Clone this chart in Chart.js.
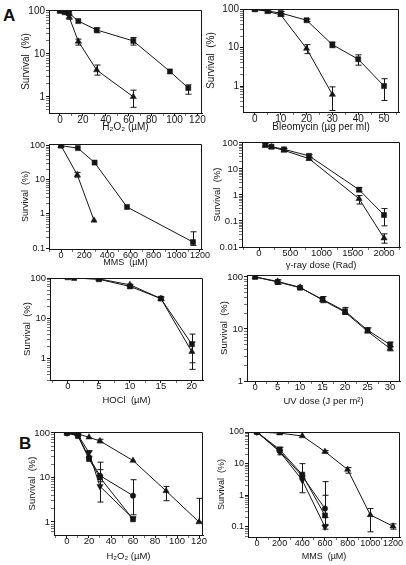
<!DOCTYPE html>
<html>
<head>
<meta charset="utf-8">
<script src="https://cdn.jsdelivr.net/npm/chart.js@4"></script>
<style>
body{margin:0;background:#fff;width:406px;height:565px;position:relative;overflow:hidden;font-family:"Liberation Sans",Arial,sans-serif}
canvas{position:absolute}
.lbl{position:absolute;font-weight:bold;font-size:17px;color:#111}
</style>
</head>
<body>
<div class="lbl" style="left:3px;top:6px">A</div>
<div class="lbl" style="left:19px;top:434px">B</div>
<script>
// --- A: H2O2 ---
const h2o2SqDose = [0, 4, 8, 16, 32, 64, 96, 112];
const h2o2SqSurv = [100, 93, 88, 58, 36, 20, 3.9, 1.6];
const h2o2SqErr = [null, null, null, null, [31, 40], [16, 24], null, [1.15, 1.9]];
const h2o2TrDose = [0, 8, 16, 32, 64];
const h2o2TrSurv = [100, 72, 19.5, 4.2, 1.0];
const h2o2TrErr = [null, [64, 80], [16, 22], [3.2, 5.5], [0.57, 1.43]];

// --- A: Bleomycin ---
const bleoSqDose = [0, 5, 10, 20, 30, 40, 50];
const bleoSqSurv = [100, 90, 80, 52, 12, 5, 1];
const bleoSqErr = [null, [84, 96], [72, 88], [48, 56], [10, 14], [3.5, 6.5], [0.42, 1.55]];
const bleoTrDose = [0, 5, 10, 20, 30];
const bleoTrSurv = [100, 88, 72, 9.5, 0.6];
const bleoTrErr = [null, null, [66, 78], [7, 12], [0.23, 0.95]];

// --- A: MMS ---
const mmsSqDose = [0, 145, 290, 570, 1140];
const mmsSqSurv = [100, 85, 32, 1.6, 0.15];
const mmsSqErr = [null, null, null, null, [0.12, 0.3]];
const mmsTrDose = [0, 140, 285];
const mmsTrSurv = [100, 14, 0.65];
const mmsTrErr = [null, [12, 16.5], null];

// --- A: gamma ray ---
const gamSqDose = [100, 200, 400, 800, 1600, 2000];
const gamSqSurv = [85, 72, 57, 32, 1.6, 0.17];
const gamSqErr = [[75, 95], null, [50, 62], [28, 36], [1.35, 1.9], [0.065, 0.3]];
const gamTrDose = [100, 200, 400, 800, 1600, 2000];
const gamTrSurv = [80, 70, 52, 25, 0.72, 0.022];
const gamTrErr = [null, null, null, [22, 28], [0.45, 0.95], [0.014, 0.032]];

// --- A: HOCl ---
const hoclSqDose = [1, 5, 10, 15, 20];
const hoclSqSurv = [100, 93, 62, 31, 2.3];
const hoclSqErr = [null, null, [56, 68], [28, 34], [0.8, 4.1]];
const hoclTrDose = [0, 5, 10, 15, 20];
const hoclTrSurv = [100, 95, 68, 31, 1.5];
const hoclTrErr = [null, null, null, null, [0.55, 2.6]];

// --- A: UV ---
const uvDose = [0, 5, 10, 15, 20, 25, 30];
const uvSqSurv = [100, 80, 62, 37, 22, 9.5, 5];
const uvSqErr = [null, [72, 88], null, [32, 42], [19, 26], [8.6, 10.5], [4.5, 5.6]];
const uvTrSurv = [100, 82, 63, 36, 21, 9, 4.2];
const uvTrErr = [null, null, null, null, null, null, [3.8, 4.6]];

// --- B: H2O2 ---
const bH2o2UpDose = [0, 10, 20, 30, 60, 90, 120];
const bH2o2UpSurv = [100, 95, 80, 66, 24, 5, 1];
const bH2o2UpErr = [null, null, null, [60, 72], null, [3, 6.3], [1, 3.4]];
const bH2o2Dose = [0, 10, 20, 30, 60];
const bH2o2CiSurv = [100, 88, 28, 11, 3.9];
const bH2o2CiErr = [null, null, null, [2.8, 22], [1.45, 8.9]];
const bH2o2SqSurv = [100, 85, 26, 10, 1.15];
const bH2o2SqErr = [null, null, null, [8, 15], null];
const bH2o2DnSurv = [100, 90, 36, 6.3, 1.2];
const bH2o2DnErr = [null, null, [30, 40], null, null];

// --- B: MMS ---
const bMmsUpDose = [0, 200, 400, 600, 800, 1000, 1200];
const bMmsUpSurv = [100, 92, 75, 24, 6.5, 0.24, 0.105];
const bMmsUpErr = [null, null, null, [22, 26], [5, 7.5], [0.07, 0.38], [0.085, 0.125]];
const bMmsDose = [0, 200, 400, 600];
const bMmsCiSurv = [100, 25, 4, 0.38];
const bMmsCiErr = [null, [19, 33], [1.2, 10], [0.11, 2.7]];
const bMmsSqSurv = [100, 28, 4.5, 0.23];
const bMmsSqErr = [null, null, null, [0.2, 1.0]];
const bMmsDnSurv = [100, 24, 3, 0.1];
const bMmsDnErr = [null, null, null, [0.085, 0.12]];

function ser(xs, ys, err, mark) {
    return { xs: xs, ys: ys, err: err, mark: mark };
}

// plot box = [left, top, right, bottom] on the page, fs = font size
const panels = [
    { box: [49, 10, 202, 113], yT: 26, xT: 127, fs: 10, x: [-9.6, 124], y: [0.42, 105],
      xTicks: [0, 20, 40, 60, 80, 100, 120], xStep: 10, title: 'H₂O₂ (µM)',
      series: [ser(h2o2SqDose, h2o2SqSurv, h2o2SqErr, 'sq'), ser(h2o2TrDose, h2o2TrSurv, h2o2TrErr, 'up')] },
    { box: [243, 9, 399, 112], yT: 211, xT: 127, fs: 10, x: [-4.6, 55.8], y: [0.21, 102],
      xTicks: [0, 10, 20, 30, 40, 50], xStep: 5, title: 'Bleomycin (µg per ml)',
      series: [ser(bleoSqDose, bleoSqSurv, bleoSqErr, 'sq'), ser(bleoTrDose, bleoTrSurv, bleoTrErr, 'up')] },
    { box: [49, 144, 202, 249], yT: 26, xT: 262, fs: 9, x: [-104, 1218], y: [0.094, 112],
      xTicks: [0, 200, 400, 600, 800, 1000, 1200], xStep: 100, title: 'MMS  (µM)',
      series: [ser(mmsSqDose, mmsSqSurv, mmsSqErr, 'sq'), ser(mmsTrDose, mmsTrSurv, mmsTrErr, 'up')] },
    { box: [242, 142, 400, 247], yT: 218, xT: 265, fs: 9.5, x: [-272, 2256], y: [0.01, 109],
      xTicks: [0, 500, 1000, 1500, 2000], xStep: 250, title: 'γ-ray dose (Rad)',
      series: [ser(gamSqDose, gamSqSurv, gamSqErr, 'sq'), ser(gamTrDose, gamTrSurv, gamTrErr, 'up')] },
    { box: [50, 278, 203, 380], yT: 28, xT: 400, fs: 9.5, x: [-2.9, 21.8], y: [0.3, 100],
      xTicks: [0, 5, 10, 15, 20], xStep: 2.5, title: 'HOCl  (µM)',
      series: [ser(hoclSqDose, hoclSqSurv, hoclSqErr, 'sq'), ser(hoclTrDose, hoclTrSurv, hoclTrErr, 'up')] },
    { box: [247, 275, 400, 381], yT: 225, xT: 401, fs: 9.5, x: [-1.8, 32.2], y: [1, 109],
      xTicks: [0, 5, 10, 15, 20, 25, 30], xStep: 2.5, title: 'UV dose (J per m²)',
      series: [ser(uvDose, uvSqSurv, uvSqErr, 'sq'), ser(uvDose, uvTrSurv, uvTrErr, 'up')] },
    { box: [54, 432, 203, 535], yT: 33, xT: 556, fs: 9.5, x: [-11.8, 123.6], y: [0.51, 105],
      xTicks: [0, 20, 40, 60, 80, 100, 120], xStep: 10, title: 'H₂O₂ (µM)',
      series: [ser(bH2o2UpDose, bH2o2UpSurv, bH2o2UpErr, 'up'), ser(bH2o2Dose, bH2o2CiSurv, bH2o2CiErr, 'ci'),
               ser(bH2o2Dose, bH2o2SqSurv, bH2o2SqErr, 'sq'), ser(bH2o2Dose, bH2o2DnSurv, bH2o2DnErr, 'dn')] },
    { box: [248, 432, 400, 537], yT: 222, xT: 556, fs: 9, x: [-79, 1262], y: [0.048, 100],
      xTicks: [0, 200, 400, 600, 800, 1000, 1200], xStep: 100, title: 'MMS  (µM)',
      series: [ser(bMmsUpDose, bMmsUpSurv, bMmsUpErr, 'up'), ser(bMmsDose, bMmsCiSurv, bMmsCiErr, 'ci'),
               ser(bMmsDose, bMmsSqSurv, bMmsSqErr, 'sq'), ser(bMmsDose, bMmsDnSurv, bMmsDnErr, 'dn')] }
];

const ink = '#151515';

// error bars + top/right frame
const extras = {
    id: 'extras',
    afterDatasetsDraw(chart) {
        const ctx = chart.ctx;
        const xs = chart.scales.x, ys = chart.scales.y;
        ctx.save();
        ctx.strokeStyle = ink;
        ctx.lineWidth = 1;
        chart.data.datasets.forEach(ds => {
            ds.data.forEach((pt, i) => {
                const e = ds.err[i];
                if (!e) return;
                const px = Math.round(xs.getPixelForValue(pt.x)) + 0.5;
                const y1 = ys.getPixelForValue(e[0]);
                const y2 = ys.getPixelForValue(e[1]);
                ctx.beginPath();
                ctx.moveTo(px, y1); ctx.lineTo(px, y2);
                ctx.moveTo(px - 3, y1); ctx.lineTo(px + 3, y1);
                ctx.moveTo(px - 3, y2); ctx.lineTo(px + 3, y2);
                ctx.stroke();
            });
        });
        const a = chart.chartArea;
        ctx.beginPath();
        ctx.moveTo(a.left, a.top + 0.5); ctx.lineTo(a.right - 0.5, a.top + 0.5); ctx.lineTo(a.right - 0.5, a.bottom);
        ctx.stroke();
        ctx.restore();
    }
};

function logTicks(min, max) {
    const out = [];
    for (let k = -3; k <= 3; k++) {
        for (let m = 1; m < 10; m++) {
            const v = +(m * Math.pow(10, k)).toPrecision(3);
            if (v >= min * 0.999 && v <= max * 1.001) out.push(v);
        }
    }
    return out;
}

function isDecade(v) {
    const l = Math.log10(v);
    return Math.abs(l - Math.round(l)) < 1e-6;
}

const markStyle = { sq: ['rect', 0, 3.6], up: ['triangle', 0, 3.6], dn: ['triangle', 180, 3.6], ci: ['circle', 0, 2.7] };

panels.forEach(p => {
    const [L, T, R, B] = p.box;
    const cl = p.yT - 6, ct = T - 8, cr = R + 12, cb = p.xT + 6;
    const cv = document.createElement('canvas');
    cv.width = cr - cl; cv.height = cb - ct;
    cv.style.left = cl + 'px'; cv.style.top = ct + 'px';
    document.body.appendChild(cv);

    const font = { family: 'Liberation Sans', size: p.fs };
    const xAll = [];
    for (let v = p.xTicks[0] - p.xStep; v <= p.x[1]; v += p.xStep) {
        if (v >= p.x[0]) xAll.push(+v.toFixed(3));
    }
    const yAll = logTicks(p.y[0], p.y[1]);

    const datasets = p.series.map(s => {
        const st = markStyle[s.mark];
        return {
            data: s.xs.map((x, i) => ({ x: x, y: s.ys[i] })),
            err: s.err,
            borderColor: ink,
            borderWidth: 1,
            backgroundColor: ink,
            pointBackgroundColor: ink,
            pointBorderColor: ink,
            pointBorderWidth: 0.5,
            pointStyle: st[0],
            rotation: st[1],
            pointRadius: st[2],
            tension: 0
        };
    });

    new Chart(cv, {
        type: 'line',
        data: { datasets: datasets },
        plugins: [extras],
        options: {
            responsive: false,
            animation: false,
            events: [],
            layout: { padding: { top: 8, right: 12, left: 0, bottom: 0 } },
            plugins: { legend: { display: false }, tooltip: { enabled: false } },
            scales: {
                x: {
                    type: 'linear', min: p.x[0], max: p.x[1],
                    afterBuildTicks: s => { s.ticks = xAll.map(v => ({ value: v })); },
                    afterFit: s => { s.height = cb - B; },
                    ticks: {
                        autoSkip: false, maxRotation: 0, padding: -2, color: ink, font: font,
                        callback: v => p.xTicks.includes(v) ? String(v) : ''
                    },
                    grid: { drawOnChartArea: false, tickLength: 3, tickColor: ink,
                            tickWidth: c => p.xTicks.includes(c.tick && c.tick.value) ? 1 : 0.6 },
                    border: { color: ink, width: 1 },
                    title: { display: true, text: p.title, color: ink, font: font, padding: 0 }
                },
                y: {
                    type: 'logarithmic', min: p.y[0], max: p.y[1],
                    afterBuildTicks: s => { s.ticks = yAll.map(v => ({ value: v })); },
                    afterFit: s => { s.width = L - cl; },
                    ticks: {
                        autoSkip: false, padding: 1, color: ink, font: font,
                        callback: v => isDecade(v) ? String(v) : ''
                    },
                    grid: { drawOnChartArea: false, tickLength: 3, tickColor: ink,
                            tickWidth: c => (c.tick && isDecade(c.tick.value)) ? 1 : 0.6 },
                    border: { color: ink, width: 1 },
                    title: { display: true, text: 'Survival  (%)', color: ink, font: font, padding: 0 }
                }
            }
        }
    });
});
</script>
</body>
</html>
